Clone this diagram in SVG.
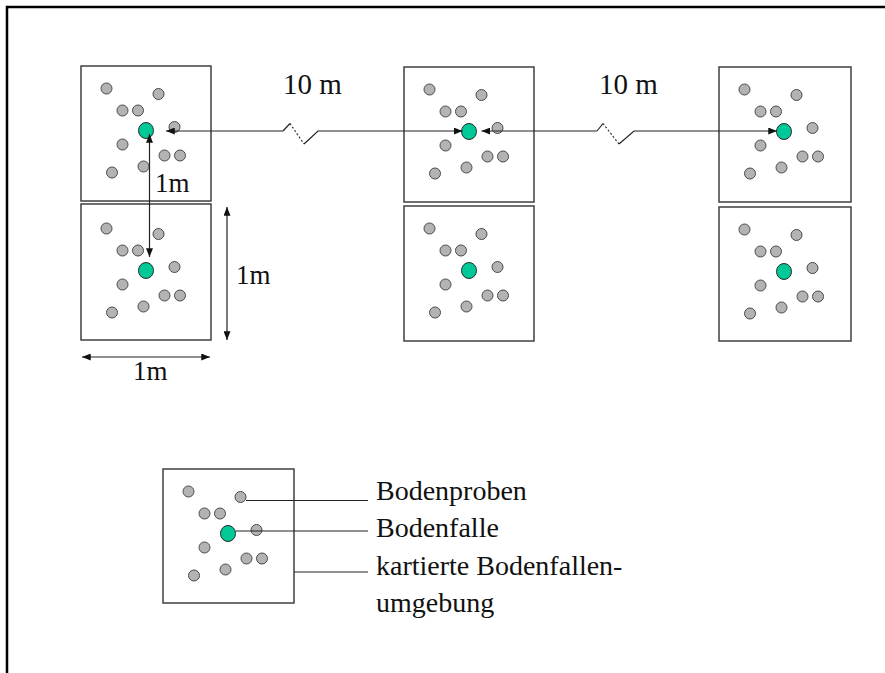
<svg xmlns="http://www.w3.org/2000/svg" xmlns:xlink="http://www.w3.org/1999/xlink" width="885" height="673" viewBox="0 0 885 673">
  <style>
    .frame { fill: none; stroke: #000; stroke-width: 2.5; }
    .plot { fill: #fff; stroke: #404040; stroke-width: 1.5; }
    .sample { fill: #b3b3b3; stroke: #4a4a4a; stroke-width: 1; }
    .trap { fill: #00c896; stroke: #2a2a2a; stroke-width: 1; }
    .line { fill: none; stroke: #222; stroke-width: 1.2; }
    .dotted { fill: none; stroke: #333; stroke-width: 1.2; stroke-dasharray: 2 2; }
    .lbl { font-family: "Liberation Serif", "Times New Roman", serif; fill: #111; }
  </style>
  <defs>
    <marker id="arr" viewBox="0 0 10 8" refX="10" refY="4" markerWidth="9" markerHeight="7" markerUnits="userSpaceOnUse" orient="auto-start-reverse">
      <path d="M0,0 L10,4 L0,8 Z" fill="#111"/>
    </marker>
    <!-- sample points and pitfall trap inside one 1 m plot -->
    <g id="dots">
      <circle class="sample" cx="25.5" cy="22.5" r="5.5"/>
      <circle class="sample" cx="77.5" cy="28" r="5.5"/>
      <circle class="sample" cx="41.5" cy="44.5" r="5.5"/>
      <circle class="sample" cx="57" cy="44.5" r="5.5"/>
      <circle class="sample" cx="93.5" cy="61" r="5.5"/>
      <circle class="sample" cx="41.5" cy="78.5" r="5.5"/>
      <circle class="sample" cx="83.5" cy="89.5" r="5.5"/>
      <circle class="sample" cx="99" cy="89.5" r="5.5"/>
      <circle class="sample" cx="62.5" cy="100.5" r="5.5"/>
      <circle class="sample" cx="31" cy="106.5" r="5.5"/>
      <ellipse class="trap" cx="65" cy="64.5" rx="7.5" ry="8"/>
    </g>
  </defs>

  <rect width="885" height="673" fill="#fff"/>
  <path class="frame" d="M7,673 V7 H885"/>

  <g id="plot-a1" transform="translate(81,66)">
    <rect class="plot" width="130" height="135"/>
    <use href="#dots"/>
  </g>
  <g id="plot-a2" transform="translate(81,204)">
    <rect class="plot" width="130" height="136"/>
    <use href="#dots" transform="translate(0,2)"/>
  </g>
  <g id="plot-b1" transform="translate(404,67)">
    <rect class="plot" width="130" height="135"/>
    <use href="#dots"/>
  </g>
  <g id="plot-b2" transform="translate(404,206)">
    <rect class="plot" width="130" height="135"/>
    <use href="#dots"/>
  </g>
  <g id="plot-c1" transform="translate(719,67)">
    <rect class="plot" width="132" height="135"/>
    <use href="#dots"/>
  </g>
  <g id="plot-c2" transform="translate(719,207)">
    <rect class="plot" width="132" height="134"/>
    <use href="#dots"/>
  </g>
  <g id="legend-plot" transform="translate(163,469)">
    <rect class="plot" width="131" height="134"/>
    <use href="#dots"/>
  </g>

  <g id="connectors">
    <!-- 10 m spacing, broken line -->
    <path class="line" d="M283,131 H166" marker-end="url(#arr)"/>
    <path class="line" d="M283,131 L290,123.5"/>
    <path class="dotted" d="M290,123.5 L304,144"/>
    <path class="line" d="M304,144 L318,131 H462.5" marker-end="url(#arr)"/>

    <path class="line" d="M597,131 H481.5" marker-end="url(#arr)"/>
    <path class="line" d="M597,131 L603,123.5"/>
    <path class="dotted" d="M603,123.5 L619,144"/>
    <path class="line" d="M619,144 L634,131 H777" marker-end="url(#arr)"/>

    <!-- 1 m between upper and lower plot -->
    <path class="line" d="M149.5,134 V257" marker-start="url(#arr)" marker-end="url(#arr)"/>

    <!-- plot dimensions -->
    <path class="line" d="M227,207 V340" marker-start="url(#arr)" marker-end="url(#arr)"/>
    <path class="line" d="M82,357 H210" marker-start="url(#arr)" marker-end="url(#arr)"/>

    <!-- legend leaders -->
    <path class="line" d="M246,500.5 H368"/>
    <path class="line" d="M235.5,531 H368"/>
    <path class="line" d="M294,572 H368"/>
  </g>

  <g id="labels">
    <text class="lbl" x="283" y="94" font-size="29">10 m</text>
    <text class="lbl" x="599" y="94" font-size="29">10 m</text>
    <text class="lbl" x="155" y="192" font-size="27">1m</text>
    <text class="lbl" x="236" y="284" font-size="27">1m</text>
    <text class="lbl" x="133" y="380" font-size="27">1m</text>
    <text class="lbl" x="376" y="500" font-size="28">Bodenproben</text>
    <text class="lbl" x="376" y="537" font-size="28">Bodenfalle</text>
    <text class="lbl" x="376" y="575" font-size="28">kartierte Bodenfallen-</text>
    <text class="lbl" x="376" y="612" font-size="28">umgebung</text>
  </g>
</svg>
